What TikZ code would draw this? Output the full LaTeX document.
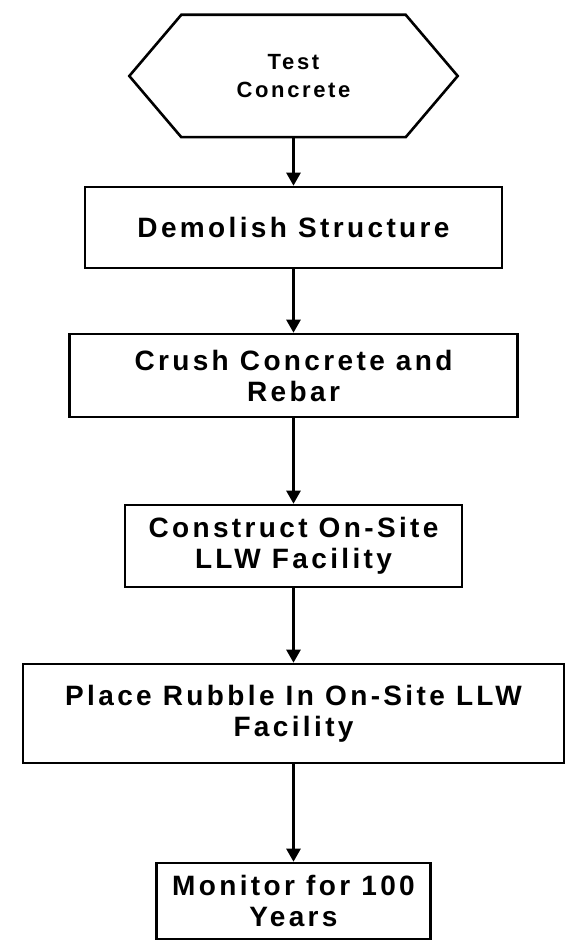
\documentclass[tikz,border=0pt]{standalone}
\usepackage{fontspec}
\setmainfont{Liberation Sans}[LetterSpace=12]
\usetikzlibrary{arrows.meta}

\begin{document}
\begin{tikzpicture}
  [x=1pt,y=-1pt,
   every node/.style={align=center,font=\bfseries\fontsize{28}{31}\selectfont},
   stepbox/.style={draw,line width=2.6pt,inner sep=0pt},
   flow/.style={line width=2.6pt,-{Triangle[length=13pt,width=14pt]}}]
  \useasboundingbox (0,0) rectangle (567,941);
  \node (test) at (293.5,76) [minimum width=328pt,minimum height=122pt,font=\bfseries\fontsize{22}{28}\selectfont] {Test\\Concrete};
  \draw[line width=2.6pt] (test.west) -- ([xshift=52pt]test.north west) -- ([xshift=-52pt]test.north east)
    -- (test.east) -- ([xshift=-52pt]test.south east) -- ([xshift=52pt]test.south west) -- cycle;
  \node[stepbox,minimum width=417pt,minimum height=81pt] (demolish) at (293.5,227.5) {Demolish Structure};
  \node[stepbox,minimum width=448pt,minimum height=83pt] (crush) at (293.5,375.5) {Crush Concrete and\\Rebar};
  \node[stepbox,minimum width=337pt,minimum height=82pt] (construct) at (293.5,546) {Construct On-Site\\LLW Facility};
  \node[stepbox,minimum width=541pt,minimum height=99pt] (place) at (293.5,713.5) {Place Rubble In On-Site LLW\\Facility};
  \node[stepbox,minimum width=274pt,minimum height=76pt] (monitor) at (293.5,901) {Monitor for 100\\Years};
  \foreach \from/\to in {test/demolish,demolish/crush,crush/construct,construct/place,place/monitor}
    \draw[flow] (\from.south) -- (\to.north);
\end{tikzpicture}
\end{document}
